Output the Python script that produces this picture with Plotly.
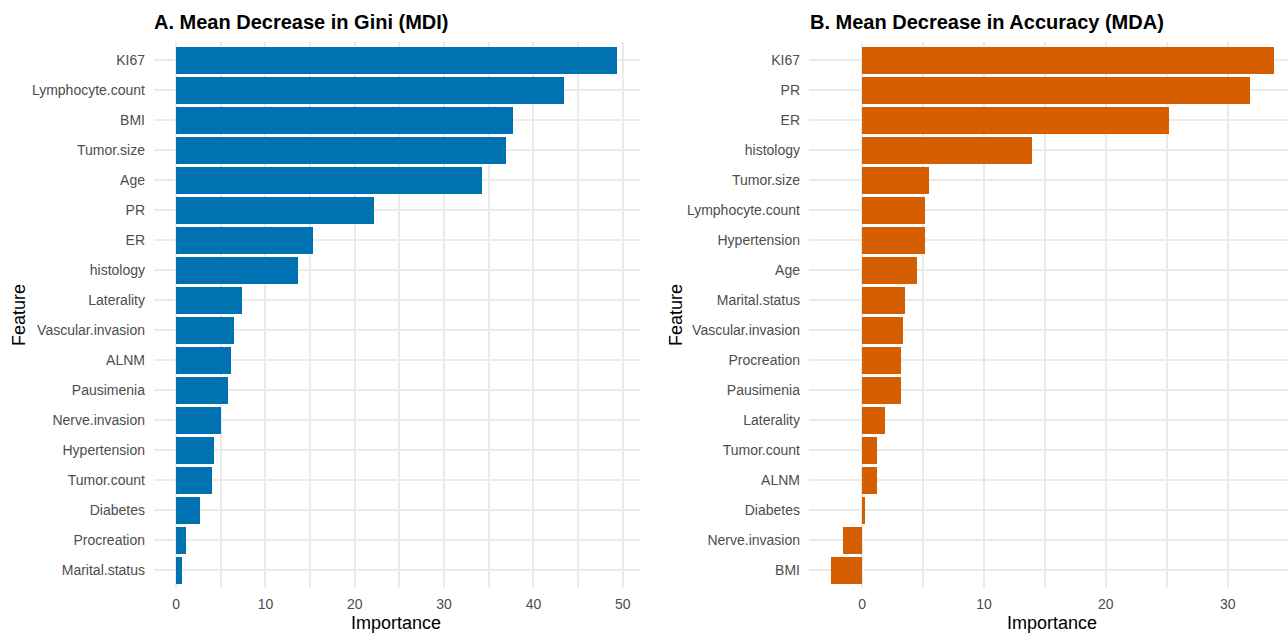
import plotly.graph_objects as go

# Panel A: Mean Decrease in Gini (top to bottom)
mdi_features = ["KI67", "Lymphocyte.count", "BMI", "Tumor.size", "Age", "PR", "ER", "histology",
                "Laterality", "Vascular.invasion", "ALNM", "Pausimenia", "Nerve.invasion",
                "Hypertension", "Tumor.count", "Diabetes", "Procreation", "Marital.status"]
mdi_values = [49.4, 43.4, 37.7, 36.9, 34.2, 22.1, 15.3, 13.65, 7.4, 6.5, 6.1, 5.8, 5.04,
              4.24, 4.0, 2.68, 1.13, 0.66]

# Panel B: Mean Decrease in Accuracy (top to bottom)
mda_features = ["KI67", "PR", "ER", "histology", "Tumor.size", "Lymphocyte.count", "Hypertension",
                "Age", "Marital.status", "Vascular.invasion", "Procreation", "Pausimenia",
                "Laterality", "Tumor.count", "ALNM", "Diabetes", "Nerve.invasion", "BMI"]
mda_values = [33.8, 31.8, 25.2, 13.93, 5.47, 5.14, 5.14, 4.48, 3.56, 3.39, 3.23, 3.23,
              1.91, 1.25, 1.19, 0.2, -1.55, -2.54]

xticks_a = [0, 10, 20, 30, 40, 50]
xticks_b = [0, 10, 20, 30]

BLUE = "#0072B2"
ORANGE = "#D55E00"
GRID = "#EBEBEB"
TICKC = "#4D4D4D"
FONT = "Liberation Sans, Arial, sans-serif"

W, H = 1288, 633

fig = go.Figure()
fig.add_trace(go.Bar(x=mdi_values, y=mdi_features, orientation="h", width=0.9,
                     marker=dict(color=BLUE, line=dict(width=0)), xaxis="x", yaxis="y",
                     showlegend=False))
fig.add_trace(go.Bar(x=mda_values, y=mda_features, orientation="h", width=0.9,
                     marker=dict(color=ORANGE, line=dict(width=0)), xaxis="x2", yaxis="y2",
                     showlegend=False))

def xr(vals):
    lo, hi = min(0, min(vals)), max(vals)
    e = (hi - lo) * 0.05
    return [lo - e, hi + e]

ra = xr(mdi_values)
rb = xr(mda_values)
# right panel is cut at the figure edge
left_b, zero_b, scale_b = 809, 862.3, 12.18
rb_vis = [rb[0], (W - zero_b) / scale_b]

ydom = [(H - 588) / H, (H - 42) / H]

axis_common = dict(showgrid=True, gridcolor=GRID, gridwidth=2, zeroline=False, showline=False,
                   ticks="", tickfont=dict(family=FONT, size=14, color=TICKC))

fig.update_layout(
    width=W, height=H, margin=dict(l=0, r=0, t=0, b=0),
    paper_bgcolor="white", plot_bgcolor="white", bargap=0,
    xaxis=dict(domain=[154 / W, 639.5 / W], range=ra, tickvals=xticks_a, anchor="y",
               minor=dict(dtick=5, tick0=0, showgrid=True, gridcolor=GRID, gridwidth=2),
               ticklabelstandoff=6, **axis_common),
    yaxis=dict(domain=ydom, anchor="x", type="category", categoryorder="array",
               categoryarray=mdi_features, range=[len(mdi_features) - 0.4, -0.6],
               ticklabelstandoff=8, **axis_common),
    xaxis2=dict(domain=[left_b / W, 1.0], range=rb_vis, tickvals=xticks_b, anchor="y2",
                minor=dict(dtick=5, tick0=0, showgrid=True, gridcolor=GRID, gridwidth=2),
                ticklabelstandoff=6, **axis_common),
    yaxis2=dict(domain=ydom, anchor="x2", type="category", categoryorder="array",
                categoryarray=mda_features, range=[len(mda_features) - 0.4, -0.6],
                ticklabelstandoff=8, **axis_common),
)

title_font = dict(family=FONT, size=20, color="black")
axt_font = dict(family=FONT, size=18, color="black")
ann = [
    dict(text="<b>A. Mean Decrease in Gini (MDI)</b>", x=152 / W, y=(H - 22) / H, xanchor="left",
         yanchor="middle", font=title_font),
    dict(text="<b>B. Mean Decrease in Accuracy (MDA)</b>", x=808 / W, y=(H - 22) / H, xanchor="left",
         yanchor="middle", font=title_font),
    dict(text="Importance", x=396 / W, y=(H - 623) / H, xanchor="center", yanchor="middle",
         font=axt_font),
    dict(text="Importance", x=1052 / W, y=(H - 623) / H, xanchor="center", yanchor="middle",
         font=axt_font),
    dict(text="Feature", x=19 / W, y=(H - 315) / H, xanchor="center", yanchor="middle",
         textangle=-90, font=axt_font),
    dict(text="Feature", x=676 / W, y=(H - 315) / H, xanchor="center", yanchor="middle",
         textangle=-90, font=axt_font),
]
for a in ann:
    a.update(xref="paper", yref="paper", showarrow=False)
fig.update_layout(annotations=ann)

fig.write_html("out.html")
